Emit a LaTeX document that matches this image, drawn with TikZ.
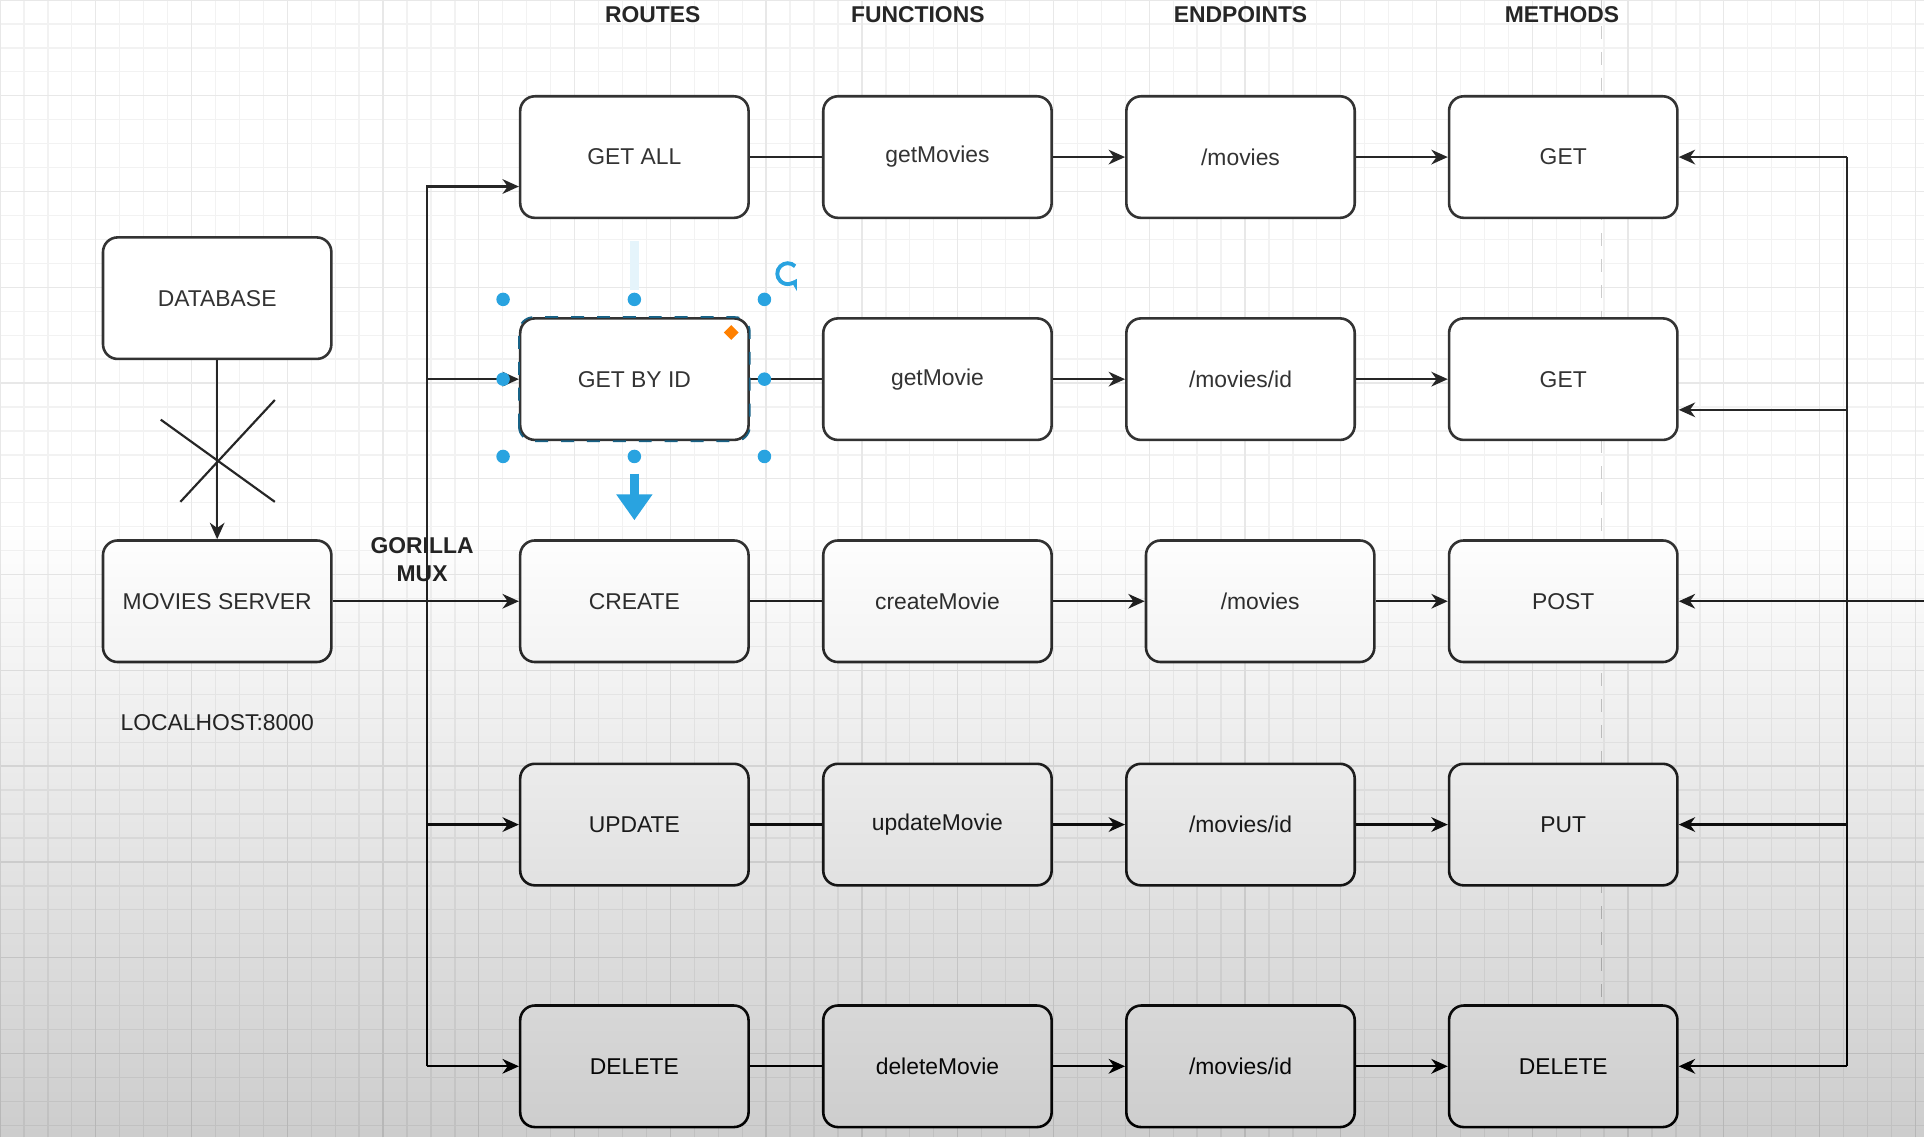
\documentclass[tikz,border=0pt]{standalone}
\usepackage{fontspec}
\setmainfont{Liberation Sans}
\usetikzlibrary{arrows.meta}
\definecolor{boxtext}{HTML}{333333}
\definecolor{handle}{HTML}{29A3E0}
\begin{document}
\begin{tikzpicture}[x=0.01cm,y=-0.01cm]

    \tikzset{
      box/.style={
        draw=black!80,
        line width=0.6pt,
        rounded corners=3.4pt,
        fill=white,
        minimum width=1.86cm,
        minimum height=0.99cm,
        inner sep=0pt,
        text=boxtext,
        font=\fontsize{5.3}{6.5}\selectfont,
      },
      head/.style={
        text=black!85,
        font=\fontsize{5.3}{6.5}\selectfont\bfseries,
        inner sep=0pt,
      },
      link/.style={line width=0.5pt,draw=black!85},
      arr/.style={link,-{Stealth[length=3.8pt,width=3.4pt,inset=1.2pt]}},
      handledot/.style={circle,fill=handle,minimum size=0.11cm,inner sep=0pt},
    }
    \useasboundingbox (0,0) rectangle (1568,927);
    \fill[white] (0,0) rectangle (1568,927);
    \draw[black!5,line width=0.3pt,step=0.195cm] (0,0) grid (1568,927);
    \draw[black!9,line width=0.3pt,step=0.78cm] (0,0) grid (1568,927);
    \draw[black!20,dashed,line width=0.3pt] (1305,0)--(1305,927);

	\node[head] (hroutes) at (532,12) {ROUTES};
	\node[head] (hfunctions) at (748,12) {FUNCTIONS};
	\node[head] (hendpoints) at (1011,12) {ENDPOINTS};
	\node[head] (hmethods) at (1273,12) {METHODS};

	\node[box] (db) at (177,243) {DATABASE};
	\node[box] (server) at (177,490) {MOVIES SERVER};
	\node[text=boxtext,font=\fontsize{5.3}{6.5}\selectfont] (host) at (177,589) {LOCALHOST:8000};
	\node[head,align=center] (mux) at (344,456) {GORILLA\\MUX};

	\node[box] (getall) at (517,128) {GET ALL};
	\node[box] (getmovies) at (764,128) {getMovies};
	\node[box] (epall) at (1011,128) {/movies};
	\node[box] (mget) at (1274,128) {GET};

	\node[box] (getbyid) at (517,309) {GET BY ID};
	\node[box] (getmovie) at (764,309) {getMovie};
	\node[box] (epid) at (1011,309) {/movies/id};
	\node[box] (mgetid) at (1274,309) {GET};

	\node[box] (create) at (517,490) {CREATE};
	\node[box] (createmovie) at (764,490) {createMovie};
	\node[box] (epcreate) at (1027,490) {/movies};
	\node[box] (mpost) at (1274,490) {POST};

	\node[box] (update) at (517,672) {UPDATE};
	\node[box] (updatemovie) at (764,672) {updateMovie};
	\node[box] (epupdate) at (1011,672) {/movies/id};
	\node[box] (mput) at (1274,672) {PUT};

	\node[box] (delete) at (517,869) {DELETE};
	\node[box] (deletemovie) at (764,869) {deleteMovie};
	\node[box] (epdelete) at (1011,869) {/movies/id};
	\node[box] (mdelete) at (1274,869) {DELETE};

	\draw[arr] (db)--(server);
	\draw[link] (131,342)--(224,409);
	\draw[link] (224,326)--(147,409);

	\coordinate (bustop) at (348,152);
	\coordinate (busbot) at (348,869);
	\draw[arr] (busbot)--(bustop)--(bustop -| getall.west);
	\draw[arr] (bustop |- getbyid)--(getbyid);
	\draw[arr] (bustop |- update)--(update);
	\draw[arr] (busbot)--(delete);
	\draw[arr] (server)--(create);

	\draw[link] (getall)--(getmovies);
	\draw[arr] (getmovies)--(epall);
	\draw[arr] (epall)--(mget);
	\draw[link] (getbyid)--(getmovie);
	\draw[arr] (getmovie)--(epid);
	\draw[arr] (epid)--(mgetid);
	\draw[link] (create)--(createmovie);
	\draw[arr] (createmovie)--(epcreate);
	\draw[arr] (epcreate)--(mpost);
	\draw[link] (update)--(updatemovie);
	\draw[arr] (updatemovie)--(epupdate);
	\draw[arr] (epupdate)--(mput);
	\draw[link] (delete)--(deletemovie);
	\draw[arr] (deletemovie)--(epdelete);
	\draw[arr] (epdelete)--(mdelete);

	\coordinate (rtop) at (1505,128);
	\coordinate (rbot) at (1505,869);
	\coordinate (rget) at (1505,334);
	\coordinate (rin) at (1568,490);
	\draw[link] (rtop)--(rbot);
	\draw[arr] (rtop)--(mget);
	\draw[arr] (rget)--(rget -| mgetid.east);
	\draw[arr] (rin)--(mpost);
	\draw[arr] (rtop |- mput)--(mput);
	\draw[arr] (rbot)--(mdelete);

	\draw[handle!60!black,dashed,line width=0.4pt,rounded corners=3.4pt] (getbyid.south west) rectangle (getbyid.north east);
	\node[handledot] (hnw) at (410,244) {};
	\node[handledot] (hn) at (517,244) {};
	\node[handledot] (hne) at (623,244) {};
	\node[handledot] (hw) at (410,309) {};
	\node[handledot] (he) at (623,309) {};
	\node[handledot] (hsw) at (410,372) {};
	\node[handledot] (hs) at (517,372) {};
	\node[handledot] (hse) at (623,372) {};
	\coordinate (dragtop) at (517,386);
	\coordinate (dragbot) at (517,424);
	\coordinate (ghosttop) at (517,196);
	\coordinate (ghostbot) at (517,236);
	\draw[handle,line width=2pt,-{Triangle[length=6pt,width=8pt]}] (dragtop)--(dragbot);
	\draw[handle!12,line width=2pt] (ghostbot)--(ghosttop);
	\draw[handle,line width=0.9pt,-{Stealth[length=2.4pt,width=2.8pt]}] (648,217) arc[start angle=45,end angle=330,radius=0.085cm];
	\fill[orange] (596,265)--(602,271)--(596,277)--(590,271)--cycle;

    \foreach \k in {0,...,49}
      \fill[black,opacity=0.005] (0,430+10*\k) rectangle (1568,927);

\end{tikzpicture}
\end{document}
